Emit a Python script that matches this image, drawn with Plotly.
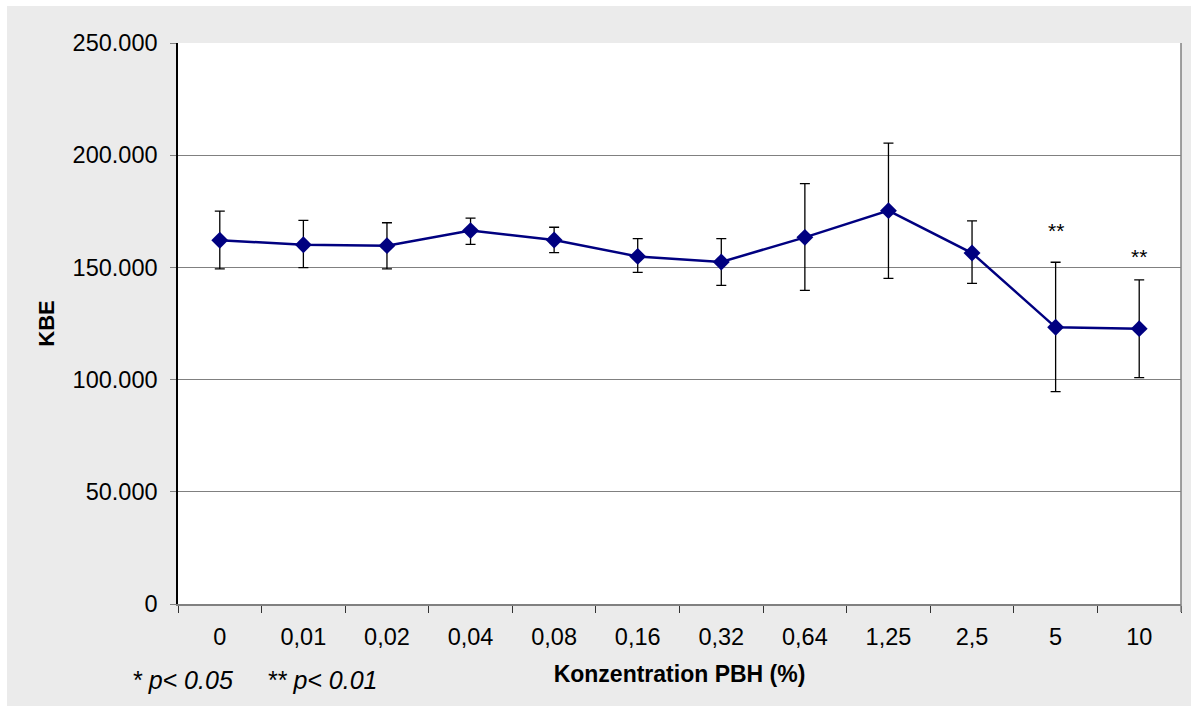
import plotly.graph_objects as go

categories = ["0", "0,01", "0,02", "0,04", "0,08", "0,16", "0,32", "0,64", "1,25", "2,5", "5", "10"]
kbe_mean = [162100, 160100, 159700, 166400, 162200, 154900, 152400, 163400, 175300, 156400, 123300, 122700]
err_upper = [175100, 171000, 169900, 172000, 167900, 162800, 162800, 187300, 205400, 170700, 152300, 144400]
err_lower = [149300, 149900, 149300, 160300, 156600, 147800, 142000, 139800, 145100, 142900, 94600, 100900]
sig_labels = ["", "", "", "", "", "", "", "", "", "", "**", "**"]
sig_offset = [0, 0, 0, 0, 0, 0, 0, 0, 0, 0, 32, 23]
y_tickvals = [0, 50000, 100000, 150000, 200000, 250000]
y_ticktext = ["0", "50.000", "100.000", "150.000", "200.000", "250.000"]
footnotes = ["* p< 0.05", "** p< 0.01"]

err_plus = [u - m for u, m in zip(err_upper, kbe_mean)]
err_minus = [m - l for m, l in zip(kbe_mean, err_lower)]

W, H = 1191, 706
L, R, T, B = 178, 10, 43, 102
pw, ph = W - L - R, H - T - B

fig = go.Figure()
fig.add_trace(go.Scatter(
    x=list(range(len(categories))), y=kbe_mean, mode="lines+markers",
    line=dict(color="#000080", width=2.5),
    marker=dict(symbol="diamond", size=13, color="#000080"),
    error_y=dict(type="data", symmetric=False, array=err_plus, arrayminus=err_minus,
                 color="black", thickness=1.3, width=5),
    showlegend=False,
))

font_family = "Liberation Sans, Arial, sans-serif"

for i, (s, u, off) in enumerate(zip(sig_labels, err_upper, sig_offset)):
    if s:
        fig.add_annotation(x=i, y=u, yshift=off, text=s, showarrow=False,
                           xref="x", yref="y", yanchor="middle",
                           font=dict(family=font_family, size=21, color="black"))

# white outer strips (left and top)
fig.add_shape(type="rect", xref="paper", yref="paper", layer="below",
              x0=-L / pw - 0.01, x1=(7 - L) / pw, y0=-B / ph - 0.01, y1=(H - B) / ph + 0.01,
              fillcolor="white", line=dict(width=0))
fig.add_shape(type="rect", xref="paper", yref="paper", layer="below",
              x0=-L / pw - 0.01, x1=(W - L) / pw + 0.01, y0=(H - B - 6) / ph, y1=(H - B) / ph + 0.01,
              fillcolor="white", line=dict(width=0))
# right border of plot area
fig.add_shape(type="line", xref="paper", yref="paper", x0=1, x1=1, y0=-8 / ph, y1=1,
              line=dict(color="#808080", width=1.5))

for txt, px in zip(footnotes, [130, 265]):
    fig.add_annotation(xref="paper", yref="paper", x=(px - L) / pw, y=-(680 - T - ph) / ph,
                       xanchor="left", yanchor="middle", showarrow=False,
                       text="<i>" + txt + "</i>",
                       font=dict(family=font_family, size=25, color="black"))

fig.update_layout(
    width=W, height=H,
    margin=dict(l=L, r=R, t=T, b=B),
    paper_bgcolor="#ebebeb", plot_bgcolor="white",
    font=dict(family=font_family, size=23, color="black"),
    xaxis=dict(
        tickmode="array", tickvals=list(range(len(categories))), ticktext=categories,
        range=[-0.5, len(categories) - 0.5],
        ticks="", showline=True, linecolor="#808080", linewidth=1.5, showgrid=False,
        zeroline=False, tickfont=dict(size=23.5), ticklabelstandoff=11,
        minor=dict(tickmode="array", tickvals=[i - 0.5 for i in range(len(categories) + 1)],
                   ticks="outside", ticklen=7, tickcolor="#333", showgrid=False),
        title=dict(text="<b>Konzentration PBH (%)</b>", font=dict(size=23), standoff=17),
    ),
    yaxis=dict(
        range=[0, 250000], tickvals=y_tickvals, ticktext=y_ticktext,
        ticks="outside", ticklen=6, tickcolor="#808080",
        showline=True, linecolor="black", linewidth=1.5,
        showgrid=True, gridcolor="#808080", gridwidth=1.2, zeroline=False,
        tickfont=dict(size=23.5), ticklabelstandoff=8,
        title=dict(text="<b>KBE</b>", font=dict(size=22), standoff=12),
    ),
)

fig.write_html("out.html")
